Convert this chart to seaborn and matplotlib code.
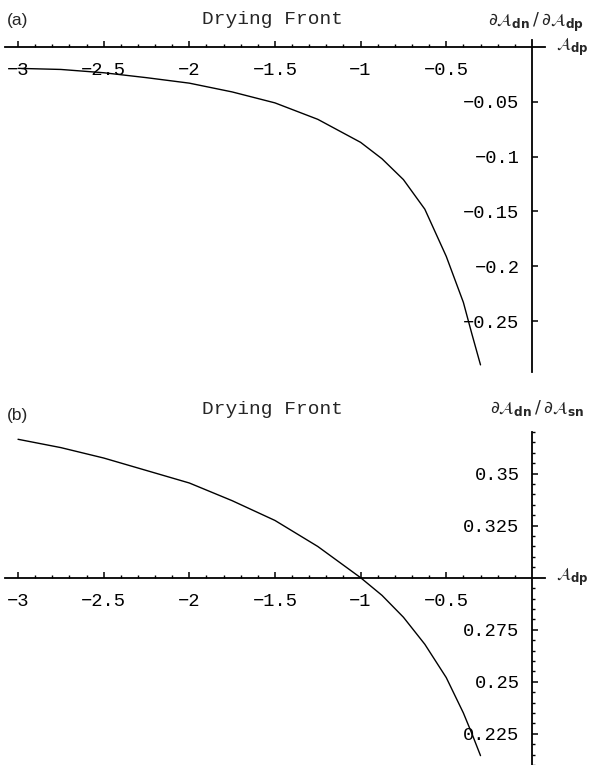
import matplotlib
matplotlib.use("Agg")
import matplotlib.pyplot as plt
import seaborn as sns
import pandas as pd
import numpy as np
from matplotlib.ticker import FixedLocator, FixedFormatter

# ---- data ----
x_a = [-3.0, -2.75, -2.5, -2.25, -2.0, -1.75, -1.5, -1.25, -1.0, -0.875, -0.75, -0.625, -0.5, -0.4, -0.35, -0.3]
y_a = [-0.0195, -0.0205, -0.0235, -0.028, -0.033, -0.041, -0.051, -0.066, -0.087, -0.102, -0.121, -0.148, -0.191, -0.233, -0.262, -0.290]

x_b = [-3.0, -2.75, -2.5, -2.25, -2.0, -1.75, -1.5, -1.25, -1.0, -0.875, -0.75, -0.625, -0.5, -0.4, -0.35, -0.3]
y_b = [0.3665, 0.3625, 0.3575, 0.3515, 0.3455, 0.337, 0.3275, 0.315, 0.300, 0.2915, 0.281, 0.268, 0.252, 0.235, 0.225, 0.2145]

xticks = [-3, -2.5, -2, -1.5, -1, -0.5]
xtick_labels = ["\u22123", "\u22122.5", "\u22122", "\u22121.5", "\u22121", "\u22120.5"]
yticks_a = [-0.05, -0.1, -0.15, -0.2, -0.25]
ytick_labels_a = ["\u22120.05", "\u22120.1", "\u22120.15", "\u22120.2", "\u22120.25"]
yticks_b = [0.225, 0.25, 0.275, 0.325, 0.35]
ytick_labels_b = ["0.225", "0.25", "0.275", "0.325", "0.35"]

title = "Drying Front"

sns.set_style("white")
plt.rcParams['font.family'] = ['Liberation Mono', 'DejaVu Sans']
plt.rcParams['mathtext.fontset'] = 'dejavusans'

W, H = 589, 765
fig = plt.figure(figsize=(W / 100, H / 100), dpi=100)

def px_axes(left, top, right, bottom):
    return fig.add_axes([left / W, 1 - bottom / H, (right - left) / W, (bottom - top) / H])

def style_axes(ax, ycross, yt, ytl, yminor=None):
    for s in ['top', 'right']:
        ax.spines[s].set_visible(False)
    ax.spines['left'].set_position(('data', 0))
    ax.spines['bottom'].set_position(('data', ycross))
    for s in ['left', 'bottom']:
        ax.spines[s].set_linewidth(1.3)
        ax.spines[s].set_color('black')
    ax.set_facecolor('none')
    ax.xaxis.set_major_locator(FixedLocator(xticks))
    ax.xaxis.set_major_formatter(FixedFormatter(xtick_labels))
    ax.xaxis.set_minor_locator(FixedLocator([v / 10 for v in range(-30, 0) if v % 5 != 0]))
    ax.yaxis.set_major_locator(FixedLocator(yt))
    ax.yaxis.set_major_formatter(FixedFormatter(ytl))
    if yminor is not None:
        ax.yaxis.set_minor_locator(FixedLocator(yminor))
    ax.tick_params(axis='both', which='both', bottom=True, left=True, top=False, right=False)
    ax.tick_params(axis='both', which='major', direction='in', length=4.5, width=1.1,
                   color='black', labelsize=13.5, labelcolor='black')
    ax.tick_params(axis='both', which='minor', direction='in', length=2.5, width=1.0, color='black')
    ax.tick_params(axis='x', which='major', pad=11)
    ax.tick_params(axis='y', which='major', pad=9)
    ax.set_xlabel('')
    ax.set_ylabel('')
    ax.grid(False)

# ---- panel (a) ----
ax1 = px_axes(5, 40.4, 545, 372)
df_a = pd.DataFrame({'x': x_a, 'y': y_a})
sns.lineplot(data=df_a, x='x', y='y', ax=ax1, color='black', linewidth=1.0, sort=False)
ax1.set_xlim(-3.076, 0.0765)
ax1.set_ylim(-0.2965, 0.006)
style_axes(ax1, 0, yticks_a, ytick_labels_a)

# ---- panel (b) ----
ax2 = px_axes(5, 432, 545, 765)
df_b = pd.DataFrame({'x': x_b, 'y': y_b})
sns.lineplot(data=df_b, x='x', y='y', ax=ax2, color='black', linewidth=1.0, sort=False)
ax2.set_xlim(-3.076, 0.0765)
ax2.set_ylim(0.210, 0.370)
yminor_b = [round(0.210 + 0.005 * i, 3) for i in range(33)]
yminor_b = [v for v in yminor_b if all(abs(v - t) > 1e-6 for t in yticks_b + [0.3])]
style_axes(ax2, 0.3, yticks_b, ytick_labels_b, yminor_b)

# ---- texts ----
def ftext(x, y, s, **kw):
    fig.text(x / W, 1 - y / H, s, **kw)

for (ylab, ytitle, yyl, yxl, lab, ysub) in [(20, 19, 22, 47, '(a)', r'dp'),
                                             (416, 410, 408, 577, '(b)', r'sn')]:
    ftext(7, ylab, lab, family=['Liberation Sans', 'DejaVu Sans'], fontsize=12.5,
          ha='left', va='center')
    ftext(273, ytitle, title, fontsize=14, ha='center', va='center')
    ftext(584, yyl, r'$\partial\mathcal{A}_{\mathbf{dn}}\,/\,\partial\mathcal{A}_{\mathbf{' + ysub + '}}$',
          fontsize=12.5, ha='right', va='center')
    ftext(556, yxl, r'$\mathcal{A}_{\mathbf{dp}}$', fontsize=12, ha='left', va='center')

fig.savefig('out.png', dpi=100)
